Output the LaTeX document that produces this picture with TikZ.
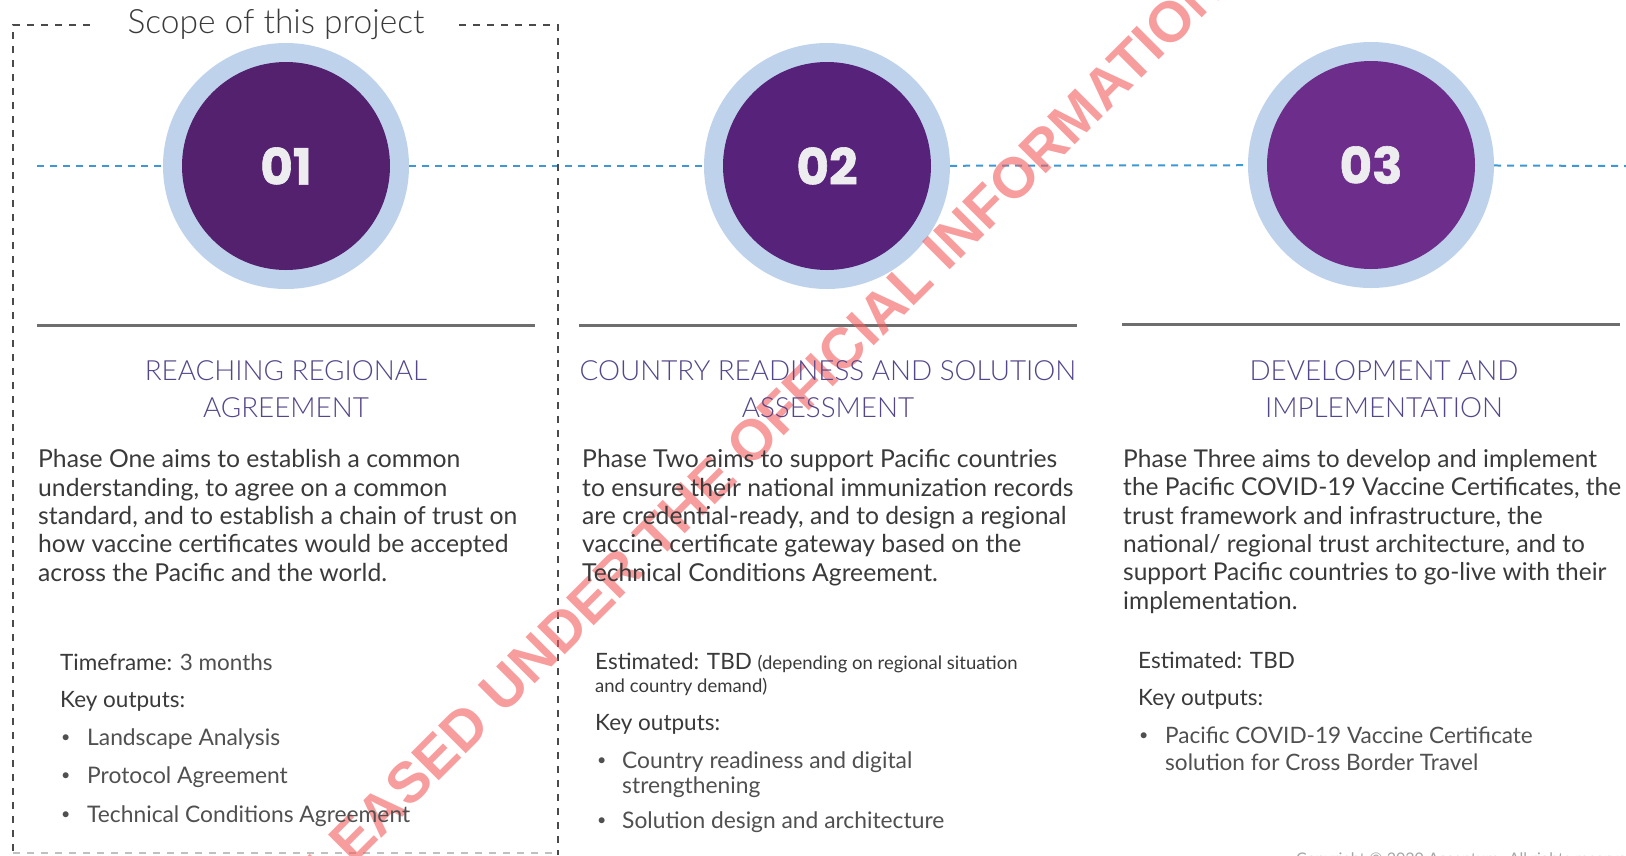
\documentclass[tikz,border=0pt]{standalone}
\usepackage{fontspec}
\setmainfont{Lato}
\newfontfamily\lightfont{Lato Light}
\newfontfamily\numfont{Poppins}[BoldFeatures={FakeBold=1.2}]
\newfontfamily\stampfont{Liberation Sans}

\definecolor{ringblue}{HTML}{BED3EB}
\definecolor{discA}{HTML}{54216F}
\definecolor{discB}{HTML}{56227A}
\definecolor{discC}{HTML}{6D2D8B}
\definecolor{numwhite}{HTML}{EDEDF0}
\definecolor{linkblue}{HTML}{3D98D3}
\definecolor{scopegray}{HTML}{4A4A4A}
\definecolor{rulegray}{HTML}{6E6E6E}
\definecolor{headpurple}{HTML}{54468A}
\definecolor{bodygray}{HTML}{3A3A3A}
\definecolor{softgray}{HTML}{505050}
\definecolor{stampred}{HTML}{F25C5C}

\newcommand{\smalldot}{\raisebox{2.5pt}{\fontsize{16}{16}\selectfont\textbullet}}

\begin{document}
\begin{tikzpicture}[x=1pt,y=-1pt,
  ring/.style={circle, fill=ringblue, minimum size=246pt, inner sep=0pt},
  disc/.style={circle, minimum size=208pt, inner sep=0pt, text=numwhite,
    font=\numfont\bfseries\fontsize{50}{50}\selectfont},
  linkdash/.style={linkblue, line width=2pt, dash pattern=on 7pt off 6pt},
  scopedash/.style={scopegray, line width=1.6pt, dash pattern=on 7pt off 7pt},
  phaserule/.style={rulegray, line width=3pt},
  scopetitle/.style={anchor=base, inner sep=0pt, text=bodygray,
    font=\lightfont\fontsize{33.5}{33.5}\selectfont},
  heading/.style={anchor=base, inner sep=0pt, text=headpurple, align=center,
    font=\lightfont\fontsize{27.8}{37}\selectfont},
  body/.style={anchor=base west, inner sep=0pt, text=bodygray, align=left,
    font=\fontsize{24.7}{28.3}\selectfont},
  meta/.style={anchor=base west, inner sep=0pt, text=bodygray,
    font=\fontsize{22.5}{26}\selectfont},
  item/.style={anchor=base west, inner sep=0pt, text=softgray, align=left,
    font=\fontsize{22.8}{25}\selectfont},
  dot/.style={anchor=base west, inner sep=0pt, text=softgray},
  stamp/.style={inner sep=0pt, text=stampred, text opacity=0.6,
    font=\stampfont\bfseries\fontsize{57}{57}\selectfont}
]
\useasboundingbox (0,0) rectangle (1626,855);
\fill[white] (0,0) rectangle (1626,855);
\begin{scope}
\clip (0,0) rectangle (1626,855);

% timeline: three phase discs on a dashed axis
\node[ring] (p1) at (286,166) {};
\node[ring] (p2) at (827,166) {};
\node[ring] (p3) at (1371,165) {};
\node[disc, fill=discA] (n1) at (p1) {01};
\node[disc, fill=discB] (n2) at (p2) {02};
\node[disc, fill=discC] (n3) at (p3) {03};
\coordinate (axisL) at (37,166);
\coordinate (axisR) at (1626,166);
\draw[linkdash] (axisL) -- (p1);
\draw[linkdash] (p1) -- (p2);
\draw[linkdash] (p2) -- (p3);
\draw[linkdash] (p3) -- (axisR);

% dashed frame around phase one
\node[scopetitle] (scope) at (276,33) {Scope of this project};
\draw[scopedash] (90,25) -- (13,25) -- (13,855);
\draw[scopedash] (459,25) -- (558,25) -- (558,855);
\draw[scopedash, draw=scopegray!35] (13,853) -- (558,853);

% rules under the discs
\draw[phaserule] (37,325) -- (535,325);
\draw[phaserule] (579,325) -- (1077,325);
\draw[phaserule] (1122,324) -- (1620,324);

% watermark
\node[stamp, rotate=45] (stampnode) at (784,408)
  {RELEASED UNDER THE OFFICIAL INFORMATION ACT};

% phase headings (anchored on the baseline of their last line)
\node[heading] (h1) at (286,417) {REACHING REGIONAL\\AGREEMENT};
\node[heading] (h2) at (828,417) {COUNTRY READINESS AND SOLUTION\\ASSESSMENT};
\node[heading] (h3) at (1384,417) {DEVELOPMENT AND\\IMPLEMENTATION};

% phase descriptions
\node[body] (b1) at (38,581) {Phase One aims to establish a common\\
understanding, to agree on a common\\
standard, and to establish a chain of trust on\\
how vaccine certificates would be accepted\\
across the Pacific and the world.};
\node[body] (b2) at (582,581) {Phase Two aims to support Pacific countries\\
to ensure their national immunization records\\
are credential-ready, and to design a regional\\
vaccine certificate gateway based on the\\
Technical Conditions Agreement.};
\node[body, font=\fontsize{24.5}{28.3}\selectfont] (b3) at (1123,609) {Phase Three aims to develop and implement\\
the Pacific COVID-19 Vaccine Certificates, the\\
trust framework and infrastructure, the\\
national/ regional trust architecture, and to\\
support Pacific countries to go-live with their\\
implementation.};

% phase one outputs
\node[meta] (t1) at (60,670) {Timeframe: {\color{softgray}3 months}};
\node[meta] (k1) at (60,707) {Key outputs:};
\node[dot] (d11) at (61,745) {\smalldot};
\node[item] (o11) at (87,745) {Landscape Analysis};
\node[dot] (d12) at (61,783) {\smalldot};
\node[item] (o12) at (87,783) {Protocol Agreement};
\node[dot] (d13) at (61,822) {\smalldot};
\node[item] (o13) at (87,822) {Technical Conditions Agreement};

% phase two outputs
\node[meta] (t2) at (595,669) {Estimated: TBD {\fontsize{18.5}{22}\selectfont(depending on regional situation}};
\node[meta, font=\fontsize{18.5}{22}\selectfont] (t2b) at (595,692) {and country demand)};
\node[meta] (k2) at (595,730) {Key outputs:};
\node[dot] (d21) at (597,768) {\smalldot};
\node[item] (o21) at (622,793) {Country readiness and digital\\strengthening};
\node[dot] (d22) at (597,828) {\smalldot};
\node[item] (o22) at (622,828) {Solution design and architecture};

% phase three outputs
\node[meta] (t3) at (1138,668) {Estimated: TBD};
\node[meta] (k3) at (1138,705) {Key outputs:};
\node[dot] (d31) at (1139,743) {\smalldot};
\node[item, font=\fontsize{22.6}{27}\selectfont] (o31) at (1165,770) {Pacific COVID-19 Vaccine Certificate\\solution for Cross Border Travel};

% footer
\node[anchor=base west, inner sep=0pt, text=black!35, font=\fontsize{16}{16}\selectfont]
  (copy) at (1296,864) {Copyright \textcopyright{} 2020 Accenture. All rights reserved};
\end{scope}
\end{tikzpicture}
\end{document}
